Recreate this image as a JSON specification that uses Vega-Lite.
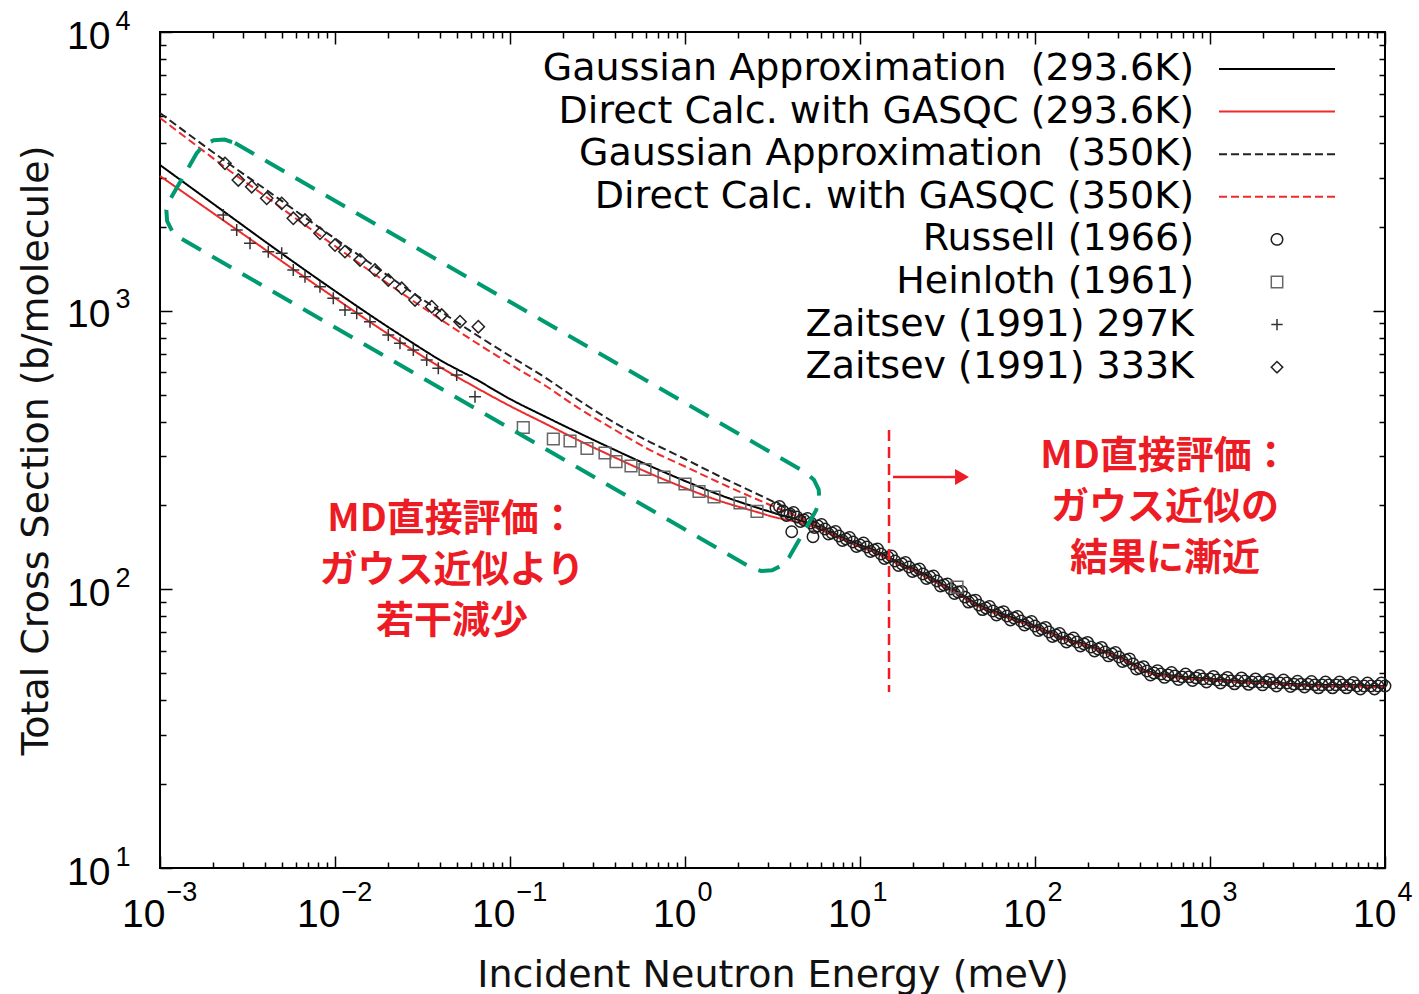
{
  "$schema": "https://vega.github.io/schema/vega-lite/v6.json",
  "width": 1225,
  "height": 836,
  "autosize": {"type": "none"},
  "padding": {"left": 160, "top": 32, "right": 34, "bottom": 126},
  "background": "#ffffff",
  "config": {
    "view": {"stroke": "#000000", "strokeWidth": 2},
    "axis": {
      "grid": false, "domain": false,
      "tickColor": "#000000", "tickWidth": 1.5,
      "labelFont": "Liberation Sans", "labelFontSize": 39, "labelColor": "#000000",
      "labelOverlap": false, "labelBound": false, "labelFlush": false,
      "titleFont": "DejaVu Sans", "titleFontSize": 38, "titleFontWeight": "normal", "titleColor": "#111111"
    }
  },
  "datasets": {
    "models": [
      {"E": 0.001, "GA293": 3332, "DC293": 3043, "GA350": 5121, "DC350": 4914},
      {"E": 0.0015849, "GA293": 2699, "DC293": 2485, "GA350": 4131, "DC350": 3947},
      {"E": 0.0025119, "GA293": 2186, "DC293": 2030, "GA350": 3346, "DC350": 3171},
      {"E": 0.0039811, "GA293": 1771, "DC293": 1658, "GA350": 2733, "DC350": 2579},
      {"E": 0.0063096, "GA293": 1440, "DC293": 1354, "GA350": 2223, "DC350": 2089},
      {"E": 0.01, "GA293": 1176.5, "DC293": 1110, "GA350": 1815, "DC350": 1706},
      {"E": 0.015849, "GA293": 964.8, "DC293": 910.6, "GA350": 1483, "DC350": 1388},
      {"E": 0.025119, "GA293": 797.8, "DC293": 753.0, "GA350": 1211, "DC350": 1134},
      {"E": 0.039811, "GA293": 665.2, "DC293": 627.8, "GA350": 997.3, "DC350": 933.5},
      {"E": 0.063096, "GA293": 569.7, "DC293": 532.2, "GA350": 824.6, "DC350": 771.9},
      {"E": 0.1, "GA293": 482.0, "DC293": 454.9, "GA350": 687.6, "DC350": 643.6},
      {"E": 0.15849, "GA293": 417.1, "DC293": 393.6, "GA350": 575.7, "DC350": 538.9},
      {"E": 0.25119, "GA293": 362.4, "DC293": 340.6, "GA350": 474.1, "DC350": 443.8},
      {"E": 0.39811, "GA293": 316.2, "DC293": 297.2, "GA350": 395.3, "DC350": 373.1},
      {"E": 0.63096, "GA293": 277.1, "DC293": 260.4, "GA350": 337.8, "DC350": 316.2},
      {"E": 1, "GA293": 244.8, "DC293": 231.0, "GA350": 293.6, "DC350": 275.9},
      {"E": 1.5849, "GA293": 218.0, "DC293": 207.5, "GA350": 254.0, "DC350": 240.8},
      {"E": 2.5119, "GA293": 197.5, "DC293": 190.3, "GA350": 221.7, "DC350": 211.8},
      {"E": 3.3113, "GA293": 187.1, "DC293": 181.0, "GA350": 204.1, "DC350": 196.6},
      {"E": 3.9811, "GA293": 181.0, "DC293": 176.6, "GA350": 192.6, "DC350": 187.1},
      {"E": 4.7863, "GA293": 175.2, "DC293": 171.6, "GA350": 182.5, "DC350": 178.1},
      {"E": 5.7544, "GA293": 168.1, "DC293": 165.3, "GA350": 172.3, "DC350": 168.8},
      {"E": 6.9183, "GA293": 159.3, "DC293": 156.7, "GA350": 160.6, "DC350": 158.0},
      {"E": 8.3176, "GA293": 151.6, "DC293": 149.3, "GA350": 151.6, "DC350": 149.3},
      {"E": 10, "GA293": 144.2, "DC293": 142.0, "GA350": 144.2, "DC350": 142.0},
      {"E": 12.023, "GA293": 138.4, "DC293": 136.3, "GA350": 138.4, "DC350": 136.3},
      {"E": 14.454, "GA293": 130.6, "DC293": 128.6, "GA350": 130.6, "DC350": 128.6},
      {"E": 17.378, "GA293": 123.3, "DC293": 121.4, "GA350": 123.3, "DC350": 121.4},
      {"E": 20.893, "GA293": 117.3, "DC293": 115.5, "GA350": 117.3, "DC350": 115.5},
      {"E": 25.119, "GA293": 110.7, "DC293": 109.0, "GA350": 110.7, "DC350": 109.0},
      {"E": 30.2, "GA293": 103.6, "DC293": 102.1, "GA350": 103.6, "DC350": 102.1},
      {"E": 36.308, "GA293": 97.8, "DC293": 96.3, "GA350": 97.8, "DC350": 96.3},
      {"E": 43.652, "GA293": 90.8, "DC293": 89.4, "GA350": 90.8, "DC350": 89.4},
      {"E": 52.481, "GA293": 85.7, "DC293": 84.4, "GA350": 85.7, "DC350": 84.4},
      {"E": 63.096, "GA293": 82.2, "DC293": 81.0, "GA350": 82.2, "DC350": 81.0},
      {"E": 75.858, "GA293": 78.9, "DC293": 77.7, "GA350": 78.9, "DC350": 77.7},
      {"E": 91.201, "GA293": 75.7, "DC293": 74.6, "GA350": 75.7, "DC350": 74.6},
      {"E": 109.65, "GA293": 72.1, "DC293": 71.4, "GA350": 72.1, "DC350": 71.4},
      {"E": 131.83, "GA293": 68.6, "DC293": 67.9, "GA350": 68.6, "DC350": 67.9},
      {"E": 158.49, "GA293": 65.8, "DC293": 65.1, "GA350": 65.8, "DC350": 65.1},
      {"E": 190.55, "GA293": 63.7, "DC293": 63.1, "GA350": 63.7, "DC350": 63.1},
      {"E": 229.09, "GA293": 61.1, "DC293": 60.5, "GA350": 61.1, "DC350": 60.5},
      {"E": 275.42, "GA293": 58.6, "DC293": 58.0, "GA350": 58.6, "DC350": 58.0},
      {"E": 331.13, "GA293": 55.8, "DC293": 55.2, "GA350": 55.8, "DC350": 55.2},
      {"E": 398.11, "GA293": 52.2, "DC293": 51.7, "GA350": 52.2, "DC350": 51.7},
      {"E": 478.63, "GA293": 50.1, "DC293": 49.6, "GA350": 50.1, "DC350": 49.6},
      {"E": 575.44, "GA293": 49.3, "DC293": 48.8, "GA350": 49.3, "DC350": 48.8},
      {"E": 691.83, "GA293": 48.5, "DC293": 48.0, "GA350": 48.5, "DC350": 48.0},
      {"E": 831.76, "GA293": 48.1, "DC293": 47.6, "GA350": 48.1, "DC350": 47.6},
      {"E": 1000, "GA293": 47.7, "DC293": 47.2, "GA350": 47.7, "DC350": 47.2},
      {"E": 1445.4, "GA293": 46.9, "DC293": 46.4, "GA350": 46.9, "DC350": 46.4},
      {"E": 2089.3, "GA293": 46.5, "DC293": 46.0, "GA350": 46.5, "DC350": 46.0},
      {"E": 3020, "GA293": 45.7, "DC293": 45.3, "GA350": 45.7, "DC350": 45.3},
      {"E": 4365.2, "GA293": 45.4, "DC293": 44.9, "GA350": 45.4, "DC350": 44.9},
      {"E": 6309.6, "GA293": 45.4, "DC293": 44.9, "GA350": 45.4, "DC350": 44.9},
      {"E": 9120.1, "GA293": 45.0, "DC293": 44.5, "GA350": 45.0, "DC350": 44.5},
      {"E": 10000, "GA293": 45.0, "DC293": 44.5, "GA350": 45.0, "DC350": 44.5}
    ],
    "obs": [
      {"series": "Russell", "E": 3.3113, "s": 195.8}, {"series": "Russell", "E": 3.4674, "s": 198.2},
      {"series": "Russell", "E": 3.6308, "s": 191.0}, {"series": "Russell", "E": 3.8019, "s": 184.1},
      {"series": "Russell", "E": 3.9811, "s": 186.4}, {"series": "Russell", "E": 4.072, "s": 161.0},
      {"series": "Russell", "E": 4.1687, "s": 188.7}, {"series": "Russell", "E": 4.3652, "s": 181.8},
      {"series": "Russell", "E": 4.5709, "s": 175.2}, {"series": "Russell", "E": 4.7863, "s": 177.3},
      {"series": "Russell", "E": 5.0119, "s": 179.5}, {"series": "Russell", "E": 5.2481, "s": 173.0},
      {"series": "Russell", "E": 5.388, "s": 154.5}, {"series": "Russell", "E": 5.4954, "s": 166.7},
      {"series": "Russell", "E": 5.7544, "s": 168.8}, {"series": "Russell", "E": 6.0256, "s": 170.9},
      {"series": "Russell", "E": 6.3096, "s": 164.6}, {"series": "Russell", "E": 6.6069, "s": 158.0},
      {"series": "Russell", "E": 6.9183, "s": 159.3}, {"series": "Russell", "E": 7.2444, "s": 161.3},
      {"series": "Russell", "E": 7.5858, "s": 155.4}, {"series": "Russell", "E": 7.9433, "s": 149.7},
      {"series": "Russell", "E": 8.3176, "s": 151.6}, {"series": "Russell", "E": 8.7096, "s": 153.5},
      {"series": "Russell", "E": 9.1201, "s": 147.9}, {"series": "Russell", "E": 9.5499, "s": 142.5},
      {"series": "Russell", "E": 10, "s": 144.2}, {"series": "Russell", "E": 10.471, "s": 146.6},
      {"series": "Russell", "E": 10.965, "s": 141.9}, {"series": "Russell", "E": 11.482, "s": 136.7},
      {"series": "Russell", "E": 12.023, "s": 138.4}, {"series": "Russell", "E": 12.589, "s": 139.6},
      {"series": "Russell", "E": 13.183, "s": 133.9}, {"series": "Russell", "E": 13.804, "s": 129.0},
      {"series": "Russell", "E": 14.454, "s": 130.6}, {"series": "Russell", "E": 15.136, "s": 131.7},
      {"series": "Russell", "E": 15.849, "s": 126.4}, {"series": "Russell", "E": 16.596, "s": 121.8},
      {"series": "Russell", "E": 17.378, "s": 123.3}, {"series": "Russell", "E": 18.197, "s": 124.8},
      {"series": "Russell", "E": 19.055, "s": 120.3}, {"series": "Russell", "E": 19.953, "s": 115.9},
      {"series": "Russell", "E": 20.893, "s": 117.3}, {"series": "Russell", "E": 21.878, "s": 118.3},
      {"series": "Russell", "E": 22.909, "s": 113.5}, {"series": "Russell", "E": 23.988, "s": 109.4},
      {"series": "Russell", "E": 25.119, "s": 110.7}, {"series": "Russell", "E": 26.303, "s": 111.6},
      {"series": "Russell", "E": 27.542, "s": 107.1}, {"series": "Russell", "E": 28.84, "s": 102.8},
      {"series": "Russell", "E": 30.2, "s": 103.6}, {"series": "Russell", "E": 31.623, "s": 104.5},
      {"series": "Russell", "E": 33.113, "s": 100.3}, {"series": "Russell", "E": 34.674, "s": 96.6},
      {"series": "Russell", "E": 36.308, "s": 97.8}, {"series": "Russell", "E": 38.019, "s": 98.2},
      {"series": "Russell", "E": 39.811, "s": 93.8}, {"series": "Russell", "E": 41.687, "s": 90.0},
      {"series": "Russell", "E": 43.652, "s": 90.8}, {"series": "Russell", "E": 45.709, "s": 91.5},
      {"series": "Russell", "E": 47.863, "s": 87.8}, {"series": "Russell", "E": 50.119, "s": 84.6},
      {"series": "Russell", "E": 52.481, "s": 85.7}, {"series": "Russell", "E": 54.954, "s": 86.8},
      {"series": "Russell", "E": 57.544, "s": 83.6}, {"series": "Russell", "E": 60.256, "s": 80.9},
      {"series": "Russell", "E": 63.096, "s": 82.2}, {"series": "Russell", "E": 66.069, "s": 83.2},
      {"series": "Russell", "E": 69.183, "s": 80.2}, {"series": "Russell", "E": 72.444, "s": 77.6},
      {"series": "Russell", "E": 75.858, "s": 78.9}, {"series": "Russell", "E": 79.433, "s": 79.9},
      {"series": "Russell", "E": 83.176, "s": 77.0}, {"series": "Russell", "E": 87.096, "s": 74.5},
      {"series": "Russell", "E": 91.201, "s": 75.7}, {"series": "Russell", "E": 95.499, "s": 76.7},
      {"series": "Russell", "E": 100, "s": 73.9}, {"series": "Russell", "E": 104.71, "s": 71.2},
      {"series": "Russell", "E": 109.65, "s": 72.1}, {"series": "Russell", "E": 114.82, "s": 73.0},
      {"series": "Russell", "E": 120.23, "s": 70.3}, {"series": "Russell", "E": 125.89, "s": 67.7},
      {"series": "Russell", "E": 131.83, "s": 68.6}, {"series": "Russell", "E": 138.04, "s": 69.4},
      {"series": "Russell", "E": 144.54, "s": 66.9}, {"series": "Russell", "E": 151.36, "s": 64.7},
      {"series": "Russell", "E": 158.49, "s": 65.8}, {"series": "Russell", "E": 165.96, "s": 66.9},
      {"series": "Russell", "E": 173.78, "s": 64.7}, {"series": "Russell", "E": 181.97, "s": 62.6},
      {"series": "Russell", "E": 190.55, "s": 63.7}, {"series": "Russell", "E": 199.53, "s": 64.5},
      {"series": "Russell", "E": 208.93, "s": 62.1}, {"series": "Russell", "E": 218.78, "s": 60.1},
      {"series": "Russell", "E": 229.09, "s": 61.1}, {"series": "Russell", "E": 239.88, "s": 61.9},
      {"series": "Russell", "E": 251.19, "s": 59.6}, {"series": "Russell", "E": 263.03, "s": 57.7},
      {"series": "Russell", "E": 275.42, "s": 58.6}, {"series": "Russell", "E": 288.4, "s": 59.3},
      {"series": "Russell", "E": 302, "s": 57.2}, {"series": "Russell", "E": 316.23, "s": 55.1},
      {"series": "Russell", "E": 331.13, "s": 55.8}, {"series": "Russell", "E": 346.74, "s": 56.3},
      {"series": "Russell", "E": 363.08, "s": 54.0}, {"series": "Russell", "E": 380.19, "s": 51.8},
      {"series": "Russell", "E": 398.11, "s": 52.2}, {"series": "Russell", "E": 416.87, "s": 52.8},
      {"series": "Russell", "E": 436.52, "s": 50.9}, {"series": "Russell", "E": 457.09, "s": 49.3},
      {"series": "Russell", "E": 478.63, "s": 50.1}, {"series": "Russell", "E": 501.19, "s": 51.1},
      {"series": "Russell", "E": 524.81, "s": 49.7}, {"series": "Russell", "E": 549.54, "s": 48.3},
      {"series": "Russell", "E": 575.44, "s": 49.3}, {"series": "Russell", "E": 602.56, "s": 50.3},
      {"series": "Russell", "E": 630.96, "s": 48.9}, {"series": "Russell", "E": 660.69, "s": 47.5},
      {"series": "Russell", "E": 691.83, "s": 48.5}, {"series": "Russell", "E": 724.44, "s": 49.7},
      {"series": "Russell", "E": 758.58, "s": 48.5}, {"series": "Russell", "E": 794.33, "s": 47.1},
      {"series": "Russell", "E": 831.76, "s": 48.1}, {"series": "Russell", "E": 870.96, "s": 49.1},
      {"series": "Russell", "E": 912.01, "s": 47.7}, {"series": "Russell", "E": 954.99, "s": 46.5},
      {"series": "Russell", "E": 1000, "s": 47.7}, {"series": "Russell", "E": 1047.1, "s": 48.7},
      {"series": "Russell", "E": 1096.5, "s": 47.3}, {"series": "Russell", "E": 1148.2, "s": 46.1},
      {"series": "Russell", "E": 1202.3, "s": 47.3}, {"series": "Russell", "E": 1258.9, "s": 48.3},
      {"series": "Russell", "E": 1318.3, "s": 46.9}, {"series": "Russell", "E": 1380.4, "s": 45.8},
      {"series": "Russell", "E": 1445.4, "s": 46.9}, {"series": "Russell", "E": 1513.6, "s": 48.1},
      {"series": "Russell", "E": 1584.9, "s": 46.9}, {"series": "Russell", "E": 1659.6, "s": 45.6},
      {"series": "Russell", "E": 1737.8, "s": 46.5}, {"series": "Russell", "E": 1819.7, "s": 47.7},
      {"series": "Russell", "E": 1905.5, "s": 46.5}, {"series": "Russell", "E": 1995.3, "s": 45.4},
      {"series": "Russell", "E": 2089.3, "s": 46.5}, {"series": "Russell", "E": 2187.8, "s": 47.5},
      {"series": "Russell", "E": 2290.9, "s": 46.1}, {"series": "Russell", "E": 2398.8, "s": 45.0},
      {"series": "Russell", "E": 2511.9, "s": 46.1}, {"series": "Russell", "E": 2630.3, "s": 47.3},
      {"series": "Russell", "E": 2754.2, "s": 46.1}, {"series": "Russell", "E": 2884.0, "s": 44.8},
      {"series": "Russell", "E": 3020, "s": 45.7}, {"series": "Russell", "E": 3162.3, "s": 46.8},
      {"series": "Russell", "E": 3311.3, "s": 45.7}, {"series": "Russell", "E": 3467.4, "s": 44.6},
      {"series": "Russell", "E": 3630.8, "s": 45.7}, {"series": "Russell", "E": 3801.9, "s": 46.7},
      {"series": "Russell", "E": 3981.1, "s": 45.4}, {"series": "Russell", "E": 4168.7, "s": 44.3},
      {"series": "Russell", "E": 4365.2, "s": 45.4}, {"series": "Russell", "E": 4570.9, "s": 46.5},
      {"series": "Russell", "E": 4786.3, "s": 45.4}, {"series": "Russell", "E": 5011.9, "s": 44.3},
      {"series": "Russell", "E": 5248.1, "s": 45.4}, {"series": "Russell", "E": 5495.4, "s": 46.5},
      {"series": "Russell", "E": 5754.4, "s": 45.4}, {"series": "Russell", "E": 6025.6, "s": 44.3},
      {"series": "Russell", "E": 6309.6, "s": 45.4}, {"series": "Russell", "E": 6606.9, "s": 46.3},
      {"series": "Russell", "E": 6918.3, "s": 45.0}, {"series": "Russell", "E": 7244.4, "s": 43.9},
      {"series": "Russell", "E": 7585.8, "s": 45.0}, {"series": "Russell", "E": 7943.3, "s": 46.1},
      {"series": "Russell", "E": 8317.6, "s": 45.0}, {"series": "Russell", "E": 8709.6, "s": 43.9},
      {"series": "Russell", "E": 9120.1, "s": 45.0}, {"series": "Russell", "E": 9549.9, "s": 46.1},
      {"series": "Russell", "E": 10000, "s": 45.0},
      {"series": "Heinloth", "E": 0.1191, "s": 380.9}, {"series": "Heinloth", "E": 0.1768, "s": 346.3},
      {"series": "Heinloth", "E": 0.2203, "s": 340.6}, {"series": "Heinloth", "E": 0.2754, "s": 320.2},
      {"series": "Heinloth", "E": 0.3491, "s": 308.5}, {"series": "Heinloth", "E": 0.4034, "s": 287.1},
      {"series": "Heinloth", "E": 0.4914, "s": 277.1}, {"series": "Heinloth", "E": 0.5907, "s": 269.2},
      {"series": "Heinloth", "E": 0.7586, "s": 253.0}, {"series": "Heinloth", "E": 1.0, "s": 238.8},
      {"series": "Heinloth", "E": 1.2023, "s": 224.4}, {"series": "Heinloth", "E": 1.4648, "s": 214.5},
      {"series": "Heinloth", "E": 2.0618, "s": 204.1}, {"series": "Heinloth", "E": 2.5785, "s": 190.3},
      {"series": "Heinloth", "E": 35.84, "s": 101.9},
      {"series": "Z297", "E": 0.0022995, "s": 2205}, {"series": "Z297", "E": 0.0027438, "s": 1948},
      {"series": "Z297", "E": 0.0032683, "s": 1745}, {"series": "Z297", "E": 0.0041574, "s": 1628},
      {"series": "Z297", "E": 0.004959, "s": 1607}, {"series": "Z297", "E": 0.0057768, "s": 1399},
      {"series": "Z297", "E": 0.0067389, "s": 1324}, {"series": "Z297", "E": 0.0082064, "s": 1219},
      {"series": "Z297", "E": 0.0097791, "s": 1108}, {"series": "Z297", "E": 0.011404, "s": 1005.5},
      {"series": "Z297", "E": 0.013305, "s": 978.5}, {"series": "Z297", "E": 0.015849, "s": 912.9},
      {"series": "Z297", "E": 0.020164, "s": 817.9}, {"series": "Z297", "E": 0.023514, "s": 763.6},
      {"series": "Z297", "E": 0.02802, "s": 722.5}, {"series": "Z297", "E": 0.03342, "s": 665.2},
      {"series": "Z297", "E": 0.038936, "s": 621.1}, {"series": "Z297", "E": 0.04959, "s": 587.7},
      {"series": "Z297", "E": 0.063096, "s": 491.2},
      {"series": "Z333", "E": 0.0023514, "s": 3379}, {"series": "Z333", "E": 0.002802, "s": 2943},
      {"series": "Z333", "E": 0.003342, "s": 2785}, {"series": "Z333", "E": 0.0040711, "s": 2531},
      {"series": "Z333", "E": 0.004959, "s": 2428}, {"series": "Z333", "E": 0.0057768, "s": 2145},
      {"series": "Z333", "E": 0.0067389, "s": 2115}, {"series": "Z333", "E": 0.0082064, "s": 1895},
      {"series": "Z333", "E": 0.01, "s": 1720}, {"series": "Z333", "E": 0.011404, "s": 1628},
      {"series": "Z333", "E": 0.013895, "s": 1520}, {"series": "Z333", "E": 0.01693, "s": 1399},
      {"series": "Z333", "E": 0.020164, "s": 1288}, {"series": "Z333", "E": 0.02405, "s": 1203},
      {"series": "Z333", "E": 0.028654, "s": 1092}, {"series": "Z333", "E": 0.035694, "s": 1033.3},
      {"series": "Z333", "E": 0.040711, "s": 964.8}, {"series": "Z333", "E": 0.051805, "s": 912.9},
      {"series": "Z333", "E": 0.065919, "s": 875.9}
    ],
    "box": [
      {"i": 1, "E": 0.0026809, "s": 3995.2}, {"i": 2, "E": 4.8907, "s": 262.49},
      {"i": 3, "E": 5.4493, "s": 247.40}, {"i": 4, "E": 5.8076, "s": 228.10},
      {"i": 5, "E": 5.8629, "s": 208.40}, {"i": 6, "E": 5.5968, "s": 191.37},
      {"i": 7, "E": 3.9337, "s": 130.40}, {"i": 8, "E": 3.5796, "s": 121.84},
      {"i": 9, "E": 3.1457, "s": 117.07}, {"i": 10, "E": 2.7239, "s": 116.37},
      {"i": 11, "E": 2.3781, "s": 119.82}, {"i": 12, "E": 0.0013036, "s": 1823.5},
      {"i": 13, "E": 0.0011698, "s": 1934.9}, {"i": 14, "E": 0.0010979, "s": 2098.5},
      {"i": 15, "E": 0.0010874, "s": 2296.9}, {"i": 16, "E": 0.001139, "s": 2501.3},
      {"i": 17, "E": 0.0016207, "s": 3670.7}, {"i": 18, "E": 0.0017811, "s": 3928.7},
      {"i": 19, "E": 0.002027, "s": 4088.7}, {"i": 20, "E": 0.0023405, "s": 4113.4},
      {"i": 21, "E": 0.0026809, "s": 3995.2}
    ]
  },
  "resolve": {"axis": {"x": "independent", "y": "independent"}},
  "layer": [
    {
      "data": {"name": "models"},
      "transform": [{"fold": ["GA293", "DC293", "GA350", "DC350"], "as": ["series", "s"]}],
      "mark": {"type": "line", "strokeWidth": 2, "interpolate": "monotone"},
      "encoding": {
        "x": {
          "field": "E", "type": "quantitative",
          "scale": {"type": "log", "domain": [0.001, 10000], "nice": false},
          "axis": {
            "orient": "bottom",
            "values": [0.001,0.002,0.003,0.004,0.005,0.006,0.007,0.008,0.009,0.01,0.02,0.03,0.04,0.05,0.06,0.07,0.08,0.09,0.1,0.2,0.3,0.4,0.5,0.6,0.7,0.8,0.9,1,2,3,4,5,6,7,8,9,10,20,30,40,50,60,70,80,90,100,200,300,400,500,600,700,800,900,1000,2000,3000,4000,5000,6000,7000,8000,9000,10000],
            "labelExpr": "indexof([0.001,0.01,0.1,1,10,100,1000,10000], datum.value) >= 0 ? '10' : ''",
            "tickSize": {"condition": {"test": "indexof([0.001,0.01,0.1,1,10,100,1000,10000], datum.value) >= 0", "value": -12}, "value": -6},
            "labelAlign": "right",
            "labelOffset": {"condition": {"test": "datum.value < 1", "value": 5}, "value": 11},
            "labelPadding": 39,
            "title": "Incident Neutron Energy (meV)",
            "titleX": 612.5, "titleY": 118, "titleAlign": "center", "titleBaseline": "alphabetic"
          }
        },
        "y": {
          "field": "s", "type": "quantitative",
          "scale": {"type": "log", "domain": [10, 10000], "nice": false},
          "axis": {
            "orient": "left",
            "values": [10,20,30,40,50,60,70,80,90,100,200,300,400,500,600,700,800,900,1000,2000,3000,4000,5000,6000,7000,8000,9000,10000],
            "labelExpr": "indexof([10,100,1000,10000], datum.value) >= 0 ? '10' : ''",
            "tickSize": {"condition": {"test": "indexof([10,100,1000,10000], datum.value) >= 0", "value": -12}, "value": -6},
            "labelPadding": 62,
            "labelOffset": 4,
            "title": "Total Cross Section (b/molecule)",
            "titleX": -124, "titleY": 418, "titleAngle": -90, "titleAlign": "center", "titleBaseline": "middle"
          }
        },
        "color": {
          "field": "series", "type": "nominal",
          "scale": {
            "domain": ["GA293", "DC293", "GA350", "DC350", "Russell", "Heinloth", "Z297", "Z333"],
            "range": ["#000000", "#ee2b2b", "#222222", "#ee2b2b", "#1e1e1e", "#666666", "#333333", "#222222"]
          },
          "legend": {
            "orient": "none", "legendX": 1117, "legendY": 37,
            "title": null, "padding": 0, "rowPadding": 4.6,
            "labelFont": "DejaVu Sans", "labelFontSize": 38, "labelColor": "#000000", "labelLimit": 2000,
            "labelAlign": "right", "labelBaseline": "middle",
            "symbolStrokeWidth": 2,
            "labelExpr": "datum.value == 'GA293' ? 'Gaussian Approximation\u00a0 (293.6K)' : datum.value == 'DC293' ? 'Direct Calc. with GASQC (293.6K)' : datum.value == 'GA350' ? 'Gaussian Approximation\u00a0 (350K)' : datum.value == 'DC350' ? 'Direct Calc. with GASQC (350K)' : datum.value == 'Russell' ? 'Russell (1966)' : datum.value == 'Heinloth' ? 'Heinloth (1961)' : datum.value == 'Z297' ? 'Zaitsev (1991) 297K' : 'Zaitsev (1991) 333K'",
            "encode": {
              "symbols": {"update": {
                "x": {"value": 0}, "y": {"value": 0},
                "shape": {"signal": "datum.index < 4 ? 'stroke' : datum.index == 4 ? 'circle' : datum.index == 5 ? 'square' : datum.index == 6 ? 'M-1,0H1M0,-1V1' : 'diamond'"},
                "size": {"signal": "datum.index < 4 ? 13456 : 130"},
                "strokeDash": {"signal": "(datum.index == 2 || datum.index == 3) ? [8,4] : [1,0]"},
                "strokeWidth": {"signal": "datum.index < 4 ? 2 : 1.5"},
                "fill": {"value": "transparent"},
                "opacity": {"value": 1}
              }},
              "labels": {"update": {"x": {"value": -83}, "y": {"value": 0}}}
            }
          }
        },
        "strokeDash": {
          "field": "series", "type": "nominal",
          "scale": {"domain": ["GA293", "DC293", "GA350", "DC350"], "range": [[1, 0], [1, 0], [8, 4], [8, 4]]},
          "legend": null
        }
      }
    },
    {
      "data": {"name": "obs"},
      "mark": {"type": "point", "filled": false, "strokeWidth": 1.5, "opacity": 1},
      "encoding": {
        "x": {
          "field": "E", "type": "quantitative",
          "scale": {"type": "log", "domain": [0.001, 10000], "nice": false},
          "axis": {
            "orient": "top", "labels": false, "title": null,
            "values": [0.001,0.002,0.003,0.004,0.005,0.006,0.007,0.008,0.009,0.01,0.02,0.03,0.04,0.05,0.06,0.07,0.08,0.09,0.1,0.2,0.3,0.4,0.5,0.6,0.7,0.8,0.9,1,2,3,4,5,6,7,8,9,10,20,30,40,50,60,70,80,90,100,200,300,400,500,600,700,800,900,1000,2000,3000,4000,5000,6000,7000,8000,9000,10000],
            "tickSize": {"condition": {"test": "indexof([0.001,0.01,0.1,1,10,100,1000,10000], datum.value) >= 0", "value": -12}, "value": -6}
          }
        },
        "y": {
          "field": "s", "type": "quantitative",
          "scale": {"type": "log", "domain": [10, 10000], "nice": false},
          "axis": {
            "orient": "right", "labels": false, "title": null,
            "values": [10,20,30,40,50,60,70,80,90,100,200,300,400,500,600,700,800,900,1000,2000,3000,4000,5000,6000,7000,8000,9000,10000],
            "tickSize": {"condition": {"test": "indexof([10,100,1000,10000], datum.value) >= 0", "value": -12}, "value": -6}
          }
        },
        "color": {
          "field": "series", "type": "nominal",
          "scale": {
            "domain": ["GA293", "DC293", "GA350", "DC350", "Russell", "Heinloth", "Z297", "Z333"],
            "range": ["#000000", "#ee2b2b", "#222222", "#ee2b2b", "#1e1e1e", "#666666", "#333333", "#222222"]
          }
        },
        "shape": {
          "field": "series", "type": "nominal",
          "scale": {"domain": ["Russell", "Heinloth", "Z297", "Z333"], "range": ["circle", "square", "M-1,0H1M0,-1V1", "diamond"]},
          "legend": null
        },
        "size": {
          "field": "series", "type": "nominal",
          "scale": {"domain": ["Russell", "Heinloth", "Z297", "Z333"], "range": [130, 150, 170, 160]},
          "legend": null
        }
      }
    },
    {
      "data": {"name": "box"},
      "mark": {"type": "line", "color": "#009a70", "strokeWidth": 4, "strokeDash": [22, 13]},
      "encoding": {
        "x": {
          "field": "E", "type": "quantitative", "scale": {"type": "log", "domain": [0.001, 10000], "nice": false},
          "axis": {
            "orient": "bottom", "title": null,
            "values": [0.001,0.01,0.1,1,10,100,1000,10000],
            "labelExpr": "datum.value == 0.001 ? '−3' : datum.value == 0.01 ? '−2' : datum.value == 0.1 ? '−1' : datum.value == 1 ? '0' : datum.value == 10 ? '1' : datum.value == 100 ? '2' : datum.value == 1000 ? '3' : '4'",
            "labelFontSize": 27, "labelAlign": "left",
            "labelOffset": {"condition": {"test": "datum.value < 1", "value": 6}, "value": 12},
            "tickSize": -12, "tickColor": "transparent", "tickOpacity": 0,
            "labelPadding": 23
          }
        },
        "y": {
          "field": "s", "type": "quantitative", "scale": {"type": "log", "domain": [10, 10000], "nice": false},
          "axis": {
            "orient": "left", "title": null,
            "values": [10,100,1000,10000],
            "labelExpr": "datum.value == 10 ? '1' : datum.value == 100 ? '2' : datum.value == 1000 ? '3' : '4'",
            "labelFontSize": 27, "labelAlign": "right", "labelBaseline": "middle",
            "labelOffset": -11,
            "tickSize": -12, "tickColor": "transparent", "tickOpacity": 0,
            "labelPadding": 42
          }
        },
        "order": {"field": "i", "type": "quantitative"}
      }
    },
    {
      "data": {"values": [{"E": 14.65, "s1": 373.0, "s2": 42.8}]},
      "mark": {"type": "rule", "color": "#ee1c24", "strokeWidth": 2.5, "strokeDash": [11, 6]},
      "encoding": {
        "x": {"field": "E", "type": "quantitative", "scale": {"type": "log", "domain": [0.001, 10000], "nice": false}, "axis": null},
        "y": {"field": "s1", "type": "quantitative", "scale": {"type": "log", "domain": [10, 10000], "nice": false}, "axis": null},
        "y2": {"field": "s2"}
      }
    },
    {
      "data": {"values": [{"E1": 15.44, "E2": 34.9, "s": 253.0}]},
      "mark": {"type": "rule", "color": "#ee1c24", "strokeWidth": 2.5},
      "encoding": {
        "x": {"field": "E1", "type": "quantitative", "scale": {"type": "log", "domain": [0.001, 10000], "nice": false}, "axis": null},
        "x2": {"field": "E2"},
        "y": {"field": "s", "type": "quantitative", "scale": {"type": "log", "domain": [10, 10000], "nice": false}, "axis": null}
      }
    },
    {
      "data": {"values": [{"E": 38.27, "s": 253.0}]},
      "mark": {"type": "point", "shape": "triangle-right", "filled": true, "color": "#ee1c24", "size": 256, "opacity": 1},
      "encoding": {
        "x": {"field": "E", "type": "quantitative", "scale": {"type": "log", "domain": [0.001, 10000], "nice": false}, "axis": null},
        "y": {"field": "s", "type": "quantitative", "scale": {"type": "log", "domain": [10, 10000], "nice": false}, "axis": null}
      }
    },
    {
      "data": {"values": [{"E": 0.04662, "s": 177.3, "label": "MD直接評価：\nガウス近似より\n若干減少"}]},
      "mark": {"type": "text", "font": "Noto Sans CJK JP", "fontWeight": "bold", "fontSize": 38, "lineHeight": 51, "lineBreak": "\n", "color": "#ed1c24", "align": "center", "baseline": "middle"},
      "encoding": {
        "x": {"field": "E", "type": "quantitative", "scale": {"type": "log", "domain": [0.001, 10000], "nice": false}, "axis": null},
        "y": {"field": "s", "type": "quantitative", "scale": {"type": "log", "domain": [10, 10000], "nice": false}, "axis": null},
        "text": {"field": "label"}
      }
    },
    {
      "data": {"values": [{"E": 553.3, "s": 298.5, "label": "MD直接評価：\nガウス近似の\n結果に漸近"}]},
      "mark": {"type": "text", "font": "Noto Sans CJK JP", "fontWeight": "bold", "fontSize": 38, "lineHeight": 51, "lineBreak": "\n", "color": "#ed1c24", "align": "center", "baseline": "middle"},
      "encoding": {
        "x": {"field": "E", "type": "quantitative", "scale": {"type": "log", "domain": [0.001, 10000], "nice": false}, "axis": null},
        "y": {"field": "s", "type": "quantitative", "scale": {"type": "log", "domain": [10, 10000], "nice": false}, "axis": null},
        "text": {"field": "label"}
      }
    }
  ]
}
